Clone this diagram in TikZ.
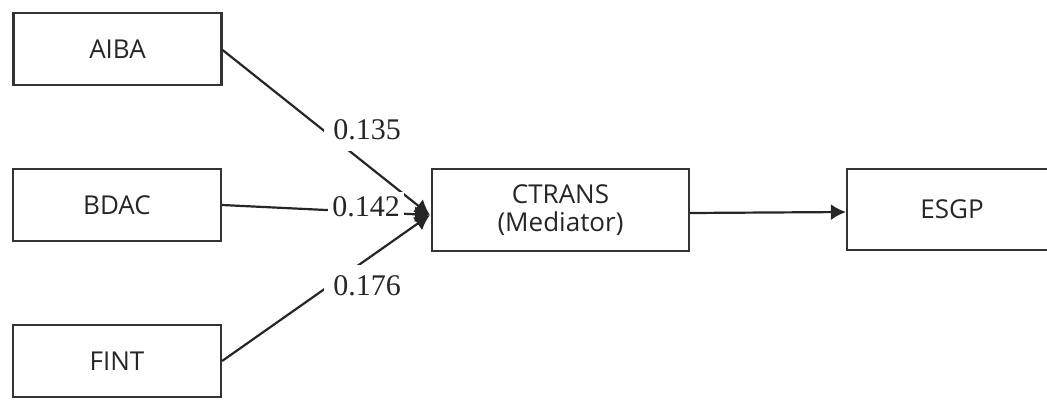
\documentclass[tikz,border=0pt]{standalone}
\usepackage{fontspec}
\setmainfont{Open Sans}
\newfontfamily\numfont{Liberation Serif}
\usetikzlibrary{arrows.meta}
\begin{document}
\begin{tikzpicture}[x=1pt,y=-1pt,
  box/.style={draw=black!80, line width=2.2pt, minimum width=#1, minimum height=72pt,
    inner sep=0pt, font=\fontsize{26}{28}\selectfont, text=black!85},
  box/.default=208pt,
  link/.style={draw=black!85, line width=2.2pt},
  tip/.style={-{Latex[length=15pt,width=16pt]}},
  coef/.style={fill=white, inner xsep=9pt, inner ysep=11pt, font=\numfont\fontsize{30}{30}\selectfont, text=black!85}]
  \useasboundingbox (0,0) rectangle (1047,399);
  \clip (0,0) rectangle (1047,399);

  % predictors
  \node[box] (aiba) at (117.5,49) {AIBA};
  \node[box] (bdac) at (117,205) {BDAC};
  \node[box] (fint) at (117,361) {FINT};

  % mediator and outcome
  \node[box=257pt, minimum height=82pt, align=center,
        font=\fontsize{26}{28}\selectfont] (ctrans) at (560.5,210) {CTRANS\\(Mediator)};
  \node[box=210pt, minimum height=81pt] (esgp) at (952,209.5) {ESGP};

  \coordinate (in) at ([xshift=-1pt,yshift=-5pt]ctrans.west);

  % paths into the mediator
  \draw[link,tip] ([yshift=-1pt]aiba.east) -- (in);
  \draw[link,tip] (bdac.east) -- (in);
  \draw[link,tip] (fint.east) -- (in);

  % coefficients
  \node[coef] (c1) at (367,130) {0.135};
  \node[coef, inner xsep=4pt, inner ysep=5pt] (c2) at (366,207) {0.142};
  \node[coef] (c3) at (367,286) {0.176};

  % mediator to outcome
  \draw[link,tip] ([yshift=-3pt]ctrans.east) -- ([yshift=-2.5pt]esgp.west);
\end{tikzpicture}
\end{document}
